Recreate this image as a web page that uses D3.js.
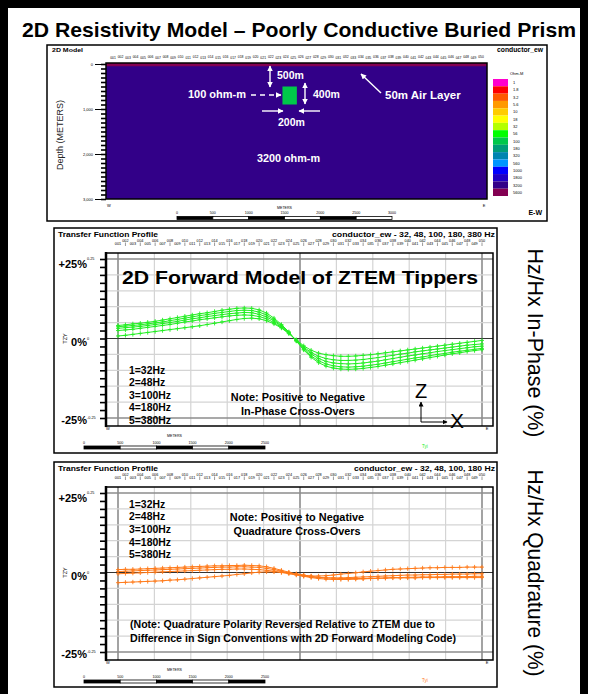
<!DOCTYPE html>
<html>
<head>
<meta charset="utf-8">
<script src="https://cdn.jsdelivr.net/npm/d3@7"></script>
<style>
body{margin:0;background:#fff;}
svg{display:block;font-family:"Liberation Sans",Arial,sans-serif;}
</style>
</head>
<body>
<div id="container"></div>
<script>
let w = 589;
let h = 694;

// stations along the profile (001 .. 050)
const stations = d3.range(1, 51);
const freqLabels = ["1=32Hz", "2=48Hz", "3=100Hz", "4=180Hz", "5=380Hz"];

// TZY in-phase, percent, one list per frequency
const ip32  = [4.1,4.3,4.6,4.8,5.1,5.4,5.8,6.2,6.6,7.0,7.4,7.8,8.1,8.5,8.9,9.2,9.5,9.6,9.5,9.0,8.0,6.4,4.4,2.1,-0.8,-3.6,-5.9,-7.6,-8.7,-9.3,-9.6,-9.7,-9.6,-9.4,-9.1,-8.8,-8.4,-8.0,-7.6,-7.2,-6.8,-6.4,-6.0,-5.6,-5.2,-4.8,-4.5,-4.1,-3.8,-3.5];
const ip48  = [3.7,3.9,4.1,4.3,4.6,4.9,5.2,5.6,6.0,6.4,6.8,7.2,7.5,7.9,8.2,8.5,8.8,8.9,8.8,8.3,7.4,5.9,4.1,1.9,-0.7,-3.4,-5.5,-7.0,-8.0,-8.6,-8.9,-9.0,-8.9,-8.7,-8.4,-8.1,-7.7,-7.3,-6.9,-6.5,-6.1,-5.8,-5.4,-5.0,-4.7,-4.3,-4.0,-3.7,-3.4,-3.1];
const ip100 = [3.2,3.4,3.6,3.8,4.1,4.4,4.7,5.0,5.4,5.8,6.2,6.5,6.9,7.2,7.5,7.8,8.0,8.2,8.1,7.6,6.8,5.5,3.8,1.8,-0.6,-3.0,-4.9,-6.3,-7.2,-7.7,-7.9,-8.0,-7.9,-7.7,-7.4,-7.1,-6.7,-6.3,-5.9,-5.5,-5.2,-4.8,-4.5,-4.1,-3.8,-3.5,-3.2,-2.9,-2.6,-2.4];
const ip180 = [2.5,2.7,2.9,3.2,3.5,3.8,4.1,4.4,4.8,5.2,5.5,5.9,6.2,6.5,6.8,7.1,7.3,7.4,7.3,6.9,6.2,5.0,3.5,1.7,-0.5,-2.7,-4.4,-5.6,-6.3,-6.7,-6.9,-6.9,-6.8,-6.6,-6.3,-6.0,-5.6,-5.3,-4.9,-4.6,-4.2,-3.9,-3.6,-3.3,-3.0,-2.7,-2.4,-2.1,-1.9,-1.7];
const ip380 = [0.8,1.0,1.3,1.6,1.9,2.2,2.5,2.8,3.1,3.4,3.7,4.0,4.4,4.8,5.2,5.6,6.0,6.3,6.4,6.2,5.6,4.6,3.3,1.5,-0.4,-2.3,-3.7,-4.6,-5.1,-5.4,-5.6,-5.6,-5.5,-5.3,-5.1,-4.8,-4.5,-4.2,-3.9,-3.6,-3.3,-3.0,-2.7,-2.4,-2.1,-1.8,-1.5,-1.2,-0.9,-0.6];

// TZY quadrature, percent
const q32  = [0.9,1.0,1.0,1.1,1.2,1.3,1.4,1.5,1.6,1.7,1.8,1.9,2.0,2.1,2.1,2.2,2.2,2.3,2.2,2.1,1.8,1.3,0.7,0.1,-0.5,-0.9,-1.1,-1.1,-1.0,-0.8,-0.5,-0.3,-0.1,0.2,0.4,0.6,0.8,1.0,1.1,1.2,1.3,1.4,1.5,1.5,1.6,1.6,1.6,1.7,1.7,1.7];
const q48  = [0.3,0.4,0.5,0.6,0.7,0.8,0.9,1.0,1.1,1.2,1.3,1.4,1.5,1.6,1.7,1.7,1.8,1.8,1.7,1.6,1.3,0.9,0.4,-0.1,-0.6,-1.1,-1.4,-1.6,-1.7,-1.7,-1.7,-1.6,-1.5,-1.4,-1.3,-1.2,-1.1,-1.0,-0.9,-0.8,-0.8,-0.7,-0.7,-0.6,-0.6,-0.5,-0.5,-0.5,-0.4,-0.4];
const q100 = [-0.4,-0.3,-0.2,-0.1,0.0,0.1,0.2,0.3,0.4,0.5,0.6,0.7,0.8,0.9,1.0,1.0,1.1,1.1,1.0,0.9,0.7,0.4,0.0,-0.4,-0.8,-1.2,-1.6,-1.9,-2.1,-2.2,-2.2,-2.2,-2.1,-2.0,-1.9,-1.8,-1.7,-1.6,-1.6,-1.5,-1.5,-1.4,-1.4,-1.4,-1.3,-1.3,-1.3,-1.3,-1.2,-1.2];
const q180 = [-3.2,-3.1,-3.0,-2.9,-2.8,-2.7,-2.6,-2.4,-2.3,-2.1,-1.9,-1.7,-1.5,-1.3,-1.1,-0.9,-0.6,-0.4,-0.1,0.1,0.2,0.2,0.1,-0.1,-0.4,-0.8,-1.2,-1.5,-1.7,-1.8,-1.9,-1.9,-1.9,-1.9,-1.8,-1.8,-1.8,-1.7,-1.7,-1.7,-1.7,-1.6,-1.6,-1.6,-1.6,-1.6,-1.6,-1.6,-1.6,-1.6];

const inPhase = [ip32, ip48, ip100, ip180, ip380];
const quadrature = [q32, q48, q100, q180];

// resistivity colour scale
const resLevels = ["1","1.8","3.2","5.6","10","18","32","56","100","180","320","560","1000","1800","3200","5600"];
const resColors = ["#ff00cc","#ff0000","#ff5a00","#ff9900","#ffcc00","#ffff00","#b4ff00","#00ff00","#00c84a","#009c78","#0084b0","#0096ff","#0000ff","#1f00c4","#320088","#830052"];

const depthTicks = [0, 1000, 2000, 3000];
const modelBarTicks = [0, 500, 1000, 1500, 2000, 2500, 3000];
const profileBarTicks = [0, 500, 1000, 1500, 2000, 2500];
const tzyTicks = [25, 0, -25];
const tzyLabels = ["+25%", "0%", "-25%"];
const tzyTickText = ["0.25", "0", "-0.25"];

let viz = d3.select("#container").append("svg")
    .attr("width", w)
    .attr("height", h)
;
viz.append("rect").attr("width", w).attr("height", h).attr("fill", "white");

let defs = viz.append("defs");
defs.append("marker").attr("id", "ah").attr("viewBox", "0 0 10 10")
    .attr("refX", 9).attr("refY", 5).attr("markerWidth", 4).attr("markerHeight", 4)
    .attr("orient", "auto-start-reverse")
  .append("path").attr("d", "M0,0L10,5L0,10z").attr("fill", "white");
defs.append("marker").attr("id", "ahb").attr("viewBox", "0 0 10 10")
    .attr("refX", 9).attr("refY", 5).attr("markerWidth", 5).attr("markerHeight", 5)
    .attr("orient", "auto-start-reverse")
  .append("path").attr("d", "M0,0L10,5L0,10z").attr("fill", "black");

// outer frame + title
viz.append("rect").attr("x", 4).attr("y", 4).attr("width", 580).attr("height", 700)
    .attr("fill", "none").attr("stroke", "black").attr("stroke-width", 8);
viz.append("text").attr("x", 299).attr("y", 37).attr("text-anchor", "middle")
    .attr("font-size", 21).attr("font-weight", "bold")
    .attr("textLength", 554).attr("lengthAdjust", "spacingAndGlyphs")
    .text("2D Resistivity Model \u2013 Poorly Conductive Buried Prism");

// ---------- 2D model panel ----------
let modelPanel = viz.append("g");
modelPanel.append("rect").attr("x", 47).attr("y", 45).attr("width", 500).attr("height", 176)
    .attr("fill", "white").attr("stroke", "black").attr("stroke-width", 1.5);
modelPanel.append("text").attr("x", 52).attr("y", 52).attr("font-size", 6).attr("font-weight", "bold")
    .attr("textLength", 31).attr("lengthAdjust", "spacingAndGlyphs").text("2D Model");
modelPanel.append("text").attr("x", 543).attr("y", 52).attr("text-anchor", "end").attr("font-size", 6.5).attr("font-weight", "bold")
    .attr("textLength", 46).attr("lengthAdjust", "spacingAndGlyphs").text("conductor_ew");

let xM = d3.scaleLinear().domain([0, 5290]).range([106, 487]);
let yM = d3.scaleLinear().domain([0, 3000]).range([64, 199]);
let resColor = d3.scaleOrdinal().domain(resLevels).range(resColors);

modelPanel.append("rect").attr("x", xM(0)).attr("y", yM(0))
    .attr("width", xM(5290) - xM(0)).attr("height", yM(3000) - yM(0))
    .attr("fill", resColor("3200"));
modelPanel.append("rect").attr("x", xM(0)).attr("y", yM(0) - 1)
    .attr("width", xM(5290) - xM(0)).attr("height", yM(50) - yM(0) + 1)
    .attr("fill", resColor("5600"));
// the buried prism: 200 m wide, 400 m tall, 500 m deep
modelPanel.append("rect").attr("x", xM(2450)).attr("y", yM(500))
    .attr("width", xM(2650) - xM(2450)).attr("height", yM(900) - yM(500))
    .attr("fill", resColor("100"));
modelPanel.append("rect").attr("x", xM(0)).attr("y", yM(0) - 1)
    .attr("width", xM(5290) - xM(0)).attr("height", yM(3000) - yM(0) + 1)
    .attr("fill", "none").attr("stroke", "black").attr("stroke-width", 1.5);

let minorDepth = modelPanel.append("g").attr("transform", "translate(" + xM(0) + ",0)")
    .call(d3.axisLeft(yM).tickValues(d3.range(0, 3001, 100)).tickSize(5).tickFormat(""));
minorDepth.select(".domain").remove();
minorDepth.selectAll("line").attr("stroke-width", 1.6);
let majorDepth = modelPanel.append("g").attr("transform", "translate(" + xM(0) + ",0)")
    .call(d3.axisLeft(yM).tickValues(depthTicks).tickSize(11).tickPadding(2));
majorDepth.select(".domain").remove();
majorDepth.selectAll("text").attr("font-size", 4).attr("font-family", "Liberation Sans, Arial");

modelPanel.append("text").attr("transform", "translate(63,135) rotate(-90)")
    .attr("text-anchor", "middle").attr("font-size", 9).attr("fill", "#222")
    .text("Depth (METERS)");

let xStTop = d3.scaleLinear().domain([1, 50]).range([113, 481]);
modelPanel.selectAll(".stTop").data(stations).enter().append("text")
    .attr("x", d => xStTop(d)).attr("y", d => d % 2 ? 59 : 57.5)
    .attr("text-anchor", "middle").attr("font-size", 3.4)
    .text(d => d3.format("03")(d));

// annotations
let ann = modelPanel.append("g").attr("fill", "white").attr("font-weight", "bold").attr("font-size", 10.5);
ann.append("text").attr("x", 277).attr("y", 79).text("500m");
ann.append("text").attr("x", 246).attr("y", 98).attr("text-anchor", "end").attr("font-size", 11).text("100 ohm-m");
ann.append("text").attr("x", 313).attr("y", 98).text("400m");
ann.append("text").attr("x", 278).attr("y", 126).text("200m");
ann.append("text").attr("x", 257).attr("y", 162).attr("font-size", 10.8).text("3200 ohm-m");
ann.append("text").attr("x", 385).attr("y", 99).attr("font-size", 11.5).text("50m Air Layer");

let arrows = modelPanel.append("g").attr("stroke", "white").attr("stroke-width", 1.4);
arrows.append("line").attr("x1", 270).attr("y1", 66).attr("x2", 270).attr("y2", 87)
    .attr("marker-start", "url(#ah)").attr("marker-end", "url(#ah)");
arrows.append("line").attr("x1", 305).attr("y1", 83).attr("x2", 305).attr("y2", 104)
    .attr("marker-start", "url(#ah)").attr("marker-end", "url(#ah)");
arrows.append("line").attr("x1", 251).attr("y1", 95).attr("x2", 281).attr("y2", 95)
    .attr("stroke-dasharray", "5,4").attr("marker-end", "url(#ah)");
arrows.append("line").attr("x1", 262).attr("y1", 111).attr("x2", 283).attr("y2", 111)
    .attr("marker-end", "url(#ah)");
arrows.append("line").attr("x1", 320).attr("y1", 111).attr("x2", 299).attr("y2", 111)
    .attr("marker-end", "url(#ah)");
arrows.append("line").attr("x1", 381).attr("y1", 93).attr("x2", 361).attr("y2", 74)
    .attr("marker-end", "url(#ah)");

// colour legend
let yLeg = d3.scaleBand().domain(resLevels).range([79, 196]);
modelPanel.append("text").attr("x", 510).attr("y", 75).attr("font-size", 4).text("Ohm-M");
modelPanel.selectAll(".leg").data(resLevels).enter().append("rect")
    .attr("x", 493).attr("y", d => yLeg(d)).attr("width", 15).attr("height", yLeg.bandwidth())
    .attr("fill", d => resColor(d));
modelPanel.selectAll(".legT").data(resLevels).enter().append("text")
    .attr("x", 513).attr("y", d => yLeg(d) + yLeg.bandwidth() / 2 + 1.5)
    .attr("font-size", 4).text(d => d);

modelPanel.append("text").attr("x", 109).attr("y", 207).attr("text-anchor", "middle").attr("font-size", 4).text("W");
modelPanel.append("text").attr("x", 484).attr("y", 207).attr("text-anchor", "middle").attr("font-size", 4).text("E");
modelPanel.append("text").attr("x", 542).attr("y", 215).attr("text-anchor", "end").attr("font-size", 7).attr("font-weight", "bold").text("E-W");

function scaleBar(g, ticks, x0, x1, yLab, yBar, yTitle) {
  let xb = d3.scaleLinear().domain([ticks[0], ticks[ticks.length - 1]]).range([x0, x1]);
  g.append("text").attr("x", (x0 + x1) / 2).attr("y", yTitle).attr("text-anchor", "middle")
      .attr("font-size", 3.6).text("METERS");
  g.selectAll(".bl").data(ticks).enter().append("text")
      .attr("x", d => xb(d)).attr("y", yLab).attr("text-anchor", "middle")
      .attr("font-size", 3.6).text(d => d);
  g.selectAll(".bs").data(ticks.slice(0, -1)).enter().append("rect")
      .attr("x", d => xb(d)).attr("y", yBar)
      .attr("width", (d, i) => xb(ticks[i + 1]) - xb(d)).attr("height", 3)
      .attr("fill", (d, i) => i % 2 ? "white" : "black")
      .attr("stroke", "black").attr("stroke-width", 0.8);
}
scaleBar(modelPanel, modelBarTicks, 177, 392, 213.5, 216.5, 209);

// ---------- transfer function profiles ----------
const markerPath = "M-2,0H2M0,-2.2V2.2";

function drawProfile(dy, series, color, header, headerLen) {
  let g = viz.append("g").attr("transform", "translate(0," + dy + ")");
  let xP = d3.scaleLinear().domain([1, 50]).range([118, 482]);
  let xGrid = d3.scaleLinear().domain([0, 10]).range([118, 482]);
  let yP = d3.scaleLinear().domain([-25, 25]).range([418, 259]);

  g.append("rect").attr("x", 54).attr("y", 228).attr("width", 443).attr("height", 225)
      .attr("fill", "white").attr("stroke", "black").attr("stroke-width", 1.5);
  g.append("text").attr("x", 58).attr("y", 237).attr("font-size", 7).attr("font-weight", "bold")
      .attr("textLength", 100).attr("lengthAdjust", "spacingAndGlyphs")
      .text("Transfer Function Profile");
  g.append("text").attr("x", 495).attr("y", 237).attr("text-anchor", "end")
      .attr("font-size", 7).attr("font-weight", "bold")
      .attr("textLength", headerLen).attr("lengthAdjust", "spacingAndGlyphs").text(header);

  g.selectAll(".st").data(stations).enter().append("text")
      .attr("x", d => xP(d)).attr("y", d => d % 2 ? 245 : 241.5)
      .attr("text-anchor", "middle").attr("font-size", 3.8)
      .text(d => d3.format("03")(d));
  g.selectAll(".stt").data(stations.filter(d => d % 2 === 0)).enter().append("line")
      .attr("x1", d => xP(d)).attr("x2", d => xP(d)).attr("y1", 242.5).attr("y2", 246)
      .attr("stroke", "black").attr("stroke-width", 0.4);

  // grid
  g.selectAll(".gx").data(d3.range(0, 11)).enter().append("line")
      .attr("x1", d => xGrid(d)).attr("x2", d => xGrid(d)).attr("y1", 253).attr("y2", 426)
      .attr("stroke", d => d % 5 ? "#d4d4d4" : "#8c8c8c").attr("stroke-width", d => d % 5 ? 1.2 : 1.6);
  g.selectAll(".gy").data(d3.range(-25, 26, 5)).enter().append("line")
      .attr("x1", 106).attr("x2", 493).attr("y1", d => yP(d)).attr("y2", d => yP(d))
      .attr("stroke", d => Math.abs(d) === 25 ? "#8c8c8c" : "#d4d4d4")
      .attr("stroke-width", d => Math.abs(d) === 25 ? 1.6 : 1.2);
  g.append("line").attr("x1", 106).attr("x2", 493).attr("y1", yP(0)).attr("y2", yP(0))
      .attr("stroke", "#333").attr("stroke-width", 1.2);
  g.append("rect").attr("x", 106).attr("y", 253).attr("width", 387).attr("height", 173)
      .attr("fill", "none").attr("stroke", "black").attr("stroke-width", 1.5);
  g.append("line").attr("x1", 106).attr("x2", 106).attr("y1", 252).attr("y2", 427)
      .attr("stroke", "black").attr("stroke-width", 2.5);

  let ax = g.append("g").attr("transform", "translate(106,0)")
      .call(d3.axisLeft(yP).tickValues(d3.range(-25, 26, 2.5)).tickSize(6).tickFormat(""));
  ax.select(".domain").remove();
  ax.selectAll("line").attr("stroke-width", 1.6);
  g.selectAll(".tk").data(tzyTicks).enter().append("text")
      .attr("x", 87).attr("y", d => yP(d) + 1).attr("font-size", 3.8)
      .text((d, i) => tzyTickText[i]);
  g.selectAll(".tl").data(tzyTicks).enter().append("text")
      .attr("x", 87).attr("y", d => yP(d) + (d === 25 ? 9 : d === 0 ? 7.5 : 5.5))
      .attr("text-anchor", "end").attr("font-size", 11).attr("font-weight", "bold")
      .text((d, i) => tzyLabels[i]);
  g.append("text").attr("transform", "translate(67," + yP(0) + ") rotate(-90)")
      .attr("text-anchor", "middle").attr("font-size", 5.5).text("TZY");

  // curves
  let line = d3.line().x((d, i) => xP(stations[i])).y(d => yP(d));
  g.selectAll(".curve").data(series).enter().append("path")
      .attr("d", line).attr("fill", "none").attr("stroke", color).attr("stroke-width", 1);
  series.forEach(s => {
    g.selectAll(null).data(s).enter().append("path")
        .attr("transform", (d, i) => "translate(" + xP(stations[i]) + "," + yP(d) + ")")
        .attr("d", markerPath).attr("stroke", color).attr("stroke-width", 0.9);
  });

  g.append("text").attr("x", 108).attr("y", 430).attr("text-anchor", "middle").attr("font-size", 4).text("W");
  g.append("text").attr("x", 487).attr("y", 430).attr("text-anchor", "middle").attr("font-size", 4).text("E");
  g.append("text").attr("x", 425).attr("y", 448).attr("text-anchor", "middle").attr("font-size", 4.5)
      .attr("fill", color).text("Tyi");
  scaleBar(g, profileBarTicks, 84, 265, 443.5, 446, 437);
  return {g: g, xP: xP, yP: yP};
}

// in-phase
let p1 = drawProfile(0, inPhase, "#22ee22", "conductor_ew - 32, 48, 100, 180, 380 Hz", 163);
p1.g.append("text").attr("x", 122).attr("y", 284).attr("font-size", 18).attr("font-weight", "bold")
    .attr("textLength", 356).attr("lengthAdjust", "spacingAndGlyphs")
    .text("2D Forward Model of ZTEM Tippers");
p1.g.selectAll(".lg").data(freqLabels).enter().append("text")
    .attr("x", 129).attr("y", (d, i) => 373.5 + i * 12.5)
    .attr("font-size", 10.4).attr("font-weight", "bold").text(d => d);
p1.g.append("text").attr("x", 298).attr("y", 401).attr("text-anchor", "middle")
    .attr("font-size", 10.9).attr("font-weight", "bold").text("Note: Positive to Negative");
p1.g.append("text").attr("x", 298).attr("y", 415).attr("text-anchor", "middle")
    .attr("font-size", 10.9).attr("font-weight", "bold").text("In-Phase Cross-Overs");
let zx = p1.g.append("g").attr("stroke", "black").attr("stroke-width", 1);
zx.append("line").attr("x1", 421).attr("y1", 422).attr("x2", 421).attr("y2", 402).attr("marker-end", "url(#ahb)");
zx.append("line").attr("x1", 421).attr("y1", 422).attr("x2", 447).attr("y2", 422).attr("marker-end", "url(#ahb)");
p1.g.append("text").attr("x", 421).attr("y", 398).attr("text-anchor", "middle").attr("font-size", 20).text("Z");
p1.g.append("text").attr("x", 457).attr("y", 428).attr("text-anchor", "middle").attr("font-size", 21).text("X");

// quadrature
let p2 = drawProfile(234, quadrature, "#ff7a1a", "conductor_ew - 32, 48, 100, 180 Hz", 141);
p2.g.selectAll(".lg").data(freqLabels).enter().append("text")
    .attr("x", 129).attr("y", (d, i) => 273.5 + i * 12.7)
    .attr("font-size", 10.4).attr("font-weight", "bold").text(d => d);
p2.g.append("text").attr("x", 297).attr("y", 287).attr("text-anchor", "middle")
    .attr("font-size", 10.9).attr("font-weight", "bold").text("Note: Positive to Negative");
p2.g.append("text").attr("x", 297).attr("y", 301).attr("text-anchor", "middle")
    .attr("font-size", 10.9).attr("font-weight", "bold").text("Quadrature Cross-Overs");
p2.g.append("text").attr("x", 130).attr("y", 394).attr("font-size", 10.5).attr("font-weight", "bold")
    .attr("textLength", 305).attr("lengthAdjust", "spacingAndGlyphs")
    .text("(Note: Quadrature Polarity Reversed Relative to ZTEM due to");
p2.g.append("text").attr("x", 130).attr("y", 408).attr("font-size", 10.5).attr("font-weight", "bold")
    .attr("textLength", 326).attr("lengthAdjust", "spacingAndGlyphs")
    .text("Difference in Sign Conventions with 2D Forward Modeling Code)");

// side captions
viz.append("text").attr("transform", "translate(528,343) rotate(90)")
    .attr("text-anchor", "middle").attr("font-size", 22)
    .attr("textLength", 189).attr("lengthAdjust", "spacingAndGlyphs")
    .text("Hz/Hx In-Phase (%)");
viz.append("text").attr("transform", "translate(528,573) rotate(90)")
    .attr("text-anchor", "middle").attr("font-size", 22)
    .attr("textLength", 207).attr("lengthAdjust", "spacingAndGlyphs")
    .text("Hz/Hx Quadrature (%)");
</script>
</body>
</html>
